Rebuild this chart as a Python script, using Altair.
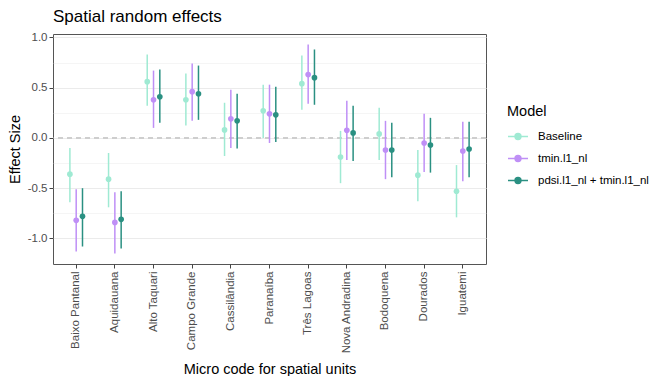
import altair as alt
import pandas as pd

categories = ["Baixo Pantanal", "Aquidauana", "Alto Taquari", "Campo Grande", "Cassilândia",
              "Paranaíba", "Três Lagoas", "Nova Andradina", "Bodoquena", "Dourados", "Iguatemi"]
models = ["Baseline", "tmin.l1_nl", "pdsi.l1_nl + tmin.l1_nl"]
colors = ["#9fead3", "#bf8ff6", "#2a9082"]

baseline_est = [-0.36, -0.41, 0.56, 0.38, 0.08, 0.27, 0.54, -0.19, 0.04, -0.37, -0.53]
baseline_lo = [-0.64, -0.69, 0.32, 0.125, -0.18, 0.00, 0.28, -0.45, -0.22, -0.63, -0.79]
baseline_hi = [-0.10, -0.15, 0.83, 0.64, 0.35, 0.53, 0.82, 0.07, 0.30, -0.12, -0.27]

tmin_est = [-0.82, -0.84, 0.38, 0.46, 0.19, 0.24, 0.63, 0.076, -0.12, -0.05, -0.13]
tmin_lo = [-1.13, -1.15, 0.10, 0.17, -0.10, -0.05, 0.34, -0.22, -0.41, -0.34, -0.43]
tmin_hi = [-0.51, -0.54, 0.67, 0.74, 0.48, 0.53, 0.93, 0.37, 0.17, 0.24, 0.16]

pdsi_est = [-0.78, -0.81, 0.41, 0.44, 0.17, 0.23, 0.60, 0.05, -0.12, -0.07, -0.11]
pdsi_lo = [-1.08, -1.10, 0.15, 0.18, -0.105, -0.04, 0.33, -0.23, -0.39, -0.345, -0.39]
pdsi_hi = [-0.50, -0.53, 0.68, 0.72, 0.44, 0.51, 0.88, 0.32, 0.15, 0.20, 0.16]

y_ticks = [-1.0, -0.75, -0.5, -0.25, 0.0, 0.25, 0.5, 0.75, 1.0]

rows = []
for m, est, lo, hi in [(models[0], baseline_est, baseline_lo, baseline_hi),
                       (models[1], tmin_est, tmin_lo, tmin_hi),
                       (models[2], pdsi_est, pdsi_lo, pdsi_hi)]:
    for c, e, l, h in zip(categories, est, lo, hi):
        rows.append({"unit": c, "model": m, "est": e, "lo": l, "hi": h})
df = pd.DataFrame(rows)

FONT = "Liberation Sans"
minor_test = "abs(datum.value*2 - round(datum.value*2)) > 0.01"

x_enc = alt.X("unit:N", sort=categories, title="Micro code for spatial units",
              scale=alt.Scale(paddingInner=0, paddingOuter=0.1),
              axis=alt.Axis(labelAngle=270, bandPosition=0.5, labelAlign="right",
                            labelBaseline="middle", labelPadding=3, titlePadding=9))
xoff = alt.XOffset("model:N", sort=models,
                   scale=alt.Scale(paddingInner=0, paddingOuter=0, range=[9.88, 28.78]))

legend = alt.Legend(
    orient="none", legendX=454, legendY=71,
    symbolType="M-1,0H1M0.3,0A0.3,0.3 0 1,1 -0.3,0A0.3,0.3 0 1,1 0.3,0Z",
    symbolSize=400, symbolStrokeWidth=1.4, symbolOpacity=1,
    rowPadding=5, labelOffset=9, titlePadding=6)
cscale = alt.Scale(domain=models, range=colors)
color_enc = alt.Color("model:N", sort=models, title="Model", scale=cscale, legend=legend)
stroke_enc = alt.Stroke("model:N", sort=models, title="Model", scale=cscale, legend=legend)

y_scale = alt.Scale(domain=[-1.254, 1.034], nice=False, zero=False)
y_axis = alt.Axis(values=y_ticks, title="Effect Size",
                  labelExpr=f"{minor_test} ? '' : replace(format(datum.value, '.1f'), '\u2212', '-')",
                  gridWidth={"condition": {"test": minor_test, "value": 0.5}, "value": 1},
                  tickOpacity={"condition": {"test": minor_test, "value": 0}, "value": 1},
                  titlePadding=5)

base = alt.Chart(df)

zero_line = alt.Chart(pd.DataFrame({"z": [0.0]})).mark_rule(
    color="#a8a8a8", strokeDash=[5, 4], strokeWidth=1
).encode(y=alt.Y("z:Q", scale=y_scale, axis=y_axis))

bars = base.mark_rule(strokeWidth=1.5).encode(
    x=x_enc, xOffset=xoff,
    y=alt.Y("lo:Q", scale=y_scale, axis=y_axis), y2="hi:Q",
    stroke=stroke_enc)

points = base.mark_circle(size=32, opacity=1, strokeWidth=0.01).encode(
    x=x_enc, xOffset=xoff,
    y=alt.Y("est:Q", scale=y_scale, axis=y_axis),
    color=color_enc, stroke=stroke_enc)

chart = alt.layer(zero_line, bars, points).properties(
    width=433, height=230,
    title=alt.Title("Spatial random effects", anchor="start", frame="group", fontSize=17,
                    fontWeight="normal", font=FONT, color="#000000", offset=5),
    autosize=alt.AutoSizeParams(type="none"),
    padding={"left": 45, "top": 26, "right": 178, "bottom": 112},
).configure_view(
    stroke="#555555", strokeWidth=1
).configure_axis(
    labelFont=FONT, titleFont=FONT, labelFontSize=11.5, titleFontSize=14.5,
    labelColor="#4d4d4d", titleColor="#000000", titleFontWeight="normal",
    gridColor="#ebebeb", domain=False, tickColor="#444444", tickSize=4,
    labelPadding=2
).configure_legend(
    labelFont=FONT, titleFont=FONT, labelFontSize=11.5, titleFontSize=14.5,
    titleFontWeight="normal", labelColor="#000000", titleColor="#000000"
)

chart.save("out.html", embed_options={"renderer": "svg", "actions": False})
